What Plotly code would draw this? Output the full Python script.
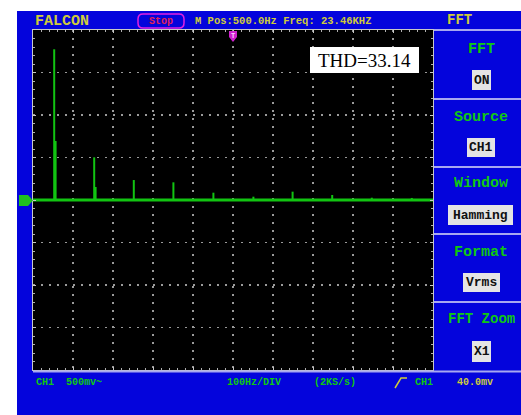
import plotly.graph_objects as go

harmonic_freq_hz = [53, 153, 252, 351, 451, 551, 649, 748, 847, 947]
harmonic_vrms_mv = [1773, 502, 235, 208, 86, 39, 98, 59, 27, 24]
leak_freq_hz = [56.5, 156.5]
leak_vrms_mv = [694, 153]
floor_freq_hz = [0, 1000]
floor_vrms_mv = [0, 0]

x_range = [0, 1000]      # 100 Hz/DIV, 10 div
y_range = [-2000, 2000]  # 500 mV/DIV, 8 div

menu_titles = ["FFT", "Source", "Window", "Format", "FFT Zoom"]
menu_values = ["ON", "CH1", "Hamming", "Vrms", "X1"]

# ---- layout helpers (pixel -> paper) ----
W, H = 521, 415
L, R, T, B = 33, 433, 30, 370


def X(px):
    return (px - L) / (R - L)


def Y(py):
    return (B - py) / (B - T)


BLUE = "#0404DC"
GREEN_TXT = "#10C810"
YELLOW = "#CFCB3A"
TRACE = "#12C412"
SEP = "#A8A8F0"
MONO = "Liberation Mono"

fig = go.Figure()
fig.add_trace(go.Scatter(x=floor_freq_hz, y=floor_vrms_mv, mode="lines",
                         line=dict(color=TRACE, width=3), hoverinfo="skip"))
fig.add_trace(go.Bar(x=harmonic_freq_hz, y=harmonic_vrms_mv, width=5,
                     marker=dict(color=TRACE, line=dict(width=0))))
fig.add_trace(go.Bar(x=leak_freq_hz, y=leak_vrms_mv, width=5,
                     marker=dict(color=TRACE, line=dict(width=0))))

shapes = []
ann = []


def rect(x0, y0, x1, y1, fill, line=None, lw=0, layer="above"):
    shapes.append(dict(type="rect", xref="paper", yref="paper",
                       x0=X(x0), x1=X(x1), y0=Y(y1), y1=Y(y0),
                       fillcolor=fill, line=dict(color=line or fill, width=lw),
                       layer=layer))


def hline(x0, x1, y, color, w):
    shapes.append(dict(type="line", xref="paper", yref="paper",
                       x0=X(x0), x1=X(x1), y0=Y(y), y1=Y(y),
                       line=dict(color=color, width=w), layer="above"))


def path(pts, fill, line=None, lw=0, closed=True):
    d = "M " + " L ".join(f"{X(a):.5f},{Y(b):.5f}" for a, b in pts)
    if closed:
        d += " Z"
    shapes.append(dict(type="path", xref="paper", yref="paper", path=d,
                       fillcolor=fill, line=dict(color=line or fill, width=lw),
                       layer="above"))


def txt(s, px, py, color, size, family=MONO, bold=True, xanchor="center"):
    ann.append(dict(text=(f"<b>{s}</b>" if bold else s), x=X(px), y=Y(py),
                    xref="paper", yref="paper", xanchor=xanchor, yanchor="middle",
                    showarrow=False, font=dict(color=color, size=size, family=family)))


# white margins of the screenshot
rect(0, 0, 17, 415, "white")
rect(0, 0, 521, 11, "white")

# menu separators
for yy in [30, 99, 167, 234, 302]:
    hline(434, 521, yy, SEP, 2)
hline(33, 521, 371.5, SEP, 2)

# header
txt("FALCON", 33, 21, YELLOW, 15, xanchor="left")
# rounded "Stop" box
x0, x1, y0, y1, r = 138, 184, 14, 28, 5
d = (f"M {X(x0+r)},{Y(y0)} L {X(x1-r)},{Y(y0)} Q {X(x1)},{Y(y0)} {X(x1)},{Y(y0+r)} "
     f"L {X(x1)},{Y(y1-r)} Q {X(x1)},{Y(y1)} {X(x1-r)},{Y(y1)} L {X(x0+r)},{Y(y1)} "
     f"Q {X(x0)},{Y(y1)} {X(x0)},{Y(y1-r)} L {X(x0)},{Y(y0+r)} Q {X(x0)},{Y(y0)} {X(x0+r)},{Y(y0)} Z")
shapes.append(dict(type="path", xref="paper", yref="paper", path=d,
                   line=dict(color="#E020E0", width=1.5), layer="above"))
txt("Stop", 161, 21, "#E0205A", 10)
txt("M Pos:500.0Hz Freq: 23.46KHZ", 193, 21, YELLOW, 10.5, xanchor="left")
txt("FFT", 460, 20, YELLOW, 14)

# menu
title_y = [49, 117, 184, 252, 319]
box = [(472, 70, 491, 90), (467, 138, 495, 157), (448, 205, 513, 225),
       (463, 273, 500, 292), (472, 341, 491, 362)]
for t, v, ty, bx in zip(menu_titles, menu_values, title_y, box):
    txt(t, 481, ty, GREEN_TXT, 15 if t != "FFT Zoom" else 14)
    rect(*bx, "#E4E4E4")
    txt(v, (bx[0] + bx[2]) / 2, (bx[1] + bx[3]) / 2, "#101010", 13)

# bottom status line
txt("CH1  500mv~", 34, 382, GREEN_TXT, 10, xanchor="left")
txt("100Hz/DIV", 254, 382, GREEN_TXT, 10)
txt("(2KS/s)", 335, 382, GREEN_TXT, 10)
path([(395, 388), (401, 378), (407, 378)], "rgba(0,0,0,0)", line=YELLOW, lw=1.5, closed=False)
txt("CH1", 413, 382, GREEN_TXT, 10, xanchor="left")
txt("40.0mv", 475, 382, YELLOW, 10)

# THD box
rect(310, 47, 419, 73, "white")
txt("THD=33.14", 364.5, 60, "black", 19, family="Liberation Serif", bold=False)

# trigger marker at top, channel marker at left
path([(229, 31), (237, 31), (237, 37), (233, 42), (229, 37)], "#D020D0")
txt("T", 233, 35.5, "#FFD0FF", 7)
path([(19, 195), (28, 195), (33, 200.5), (28, 206), (19, 206)], "#20C020")

fig.update_layout(
    width=W, height=H,
    margin=dict(l=L, r=W - R, t=T, b=H - B),
    paper_bgcolor=BLUE, plot_bgcolor="black",
    showlegend=False, barmode="overlay",
    shapes=shapes, annotations=ann,
    xaxis=dict(range=x_range, dtick=100, showticklabels=False, zeroline=False,
               showgrid=True, gridcolor="#9A9A9A", gridwidth=1.5, griddash="1.5px,6.5px",
               showline=True, linecolor="#C8C8C8", linewidth=1, mirror="ticks",
               ticks="inside", ticklen=3, tickcolor="#C8C8C8",
               minor=dict(dtick=20, ticks="inside", ticklen=2, tickcolor="#B0B0B0", showgrid=False),
               fixedrange=True),
    yaxis=dict(range=y_range, dtick=500, showticklabels=False, zeroline=False,
               showgrid=True, gridcolor="#9A9A9A", gridwidth=1.5, griddash="1.5px,6.5px",
               showline=True, linecolor="#C8C8C8", linewidth=1, mirror="ticks",
               ticks="inside", ticklen=3, tickcolor="#C8C8C8",
               minor=dict(dtick=100, ticks="inside", ticklen=2, tickcolor="#B0B0B0", showgrid=False),
               fixedrange=True),
)

fig.write_html("out.html", config={"displayModeBar": False, "staticPlot": True},
               post_script="document.body.style.margin='0';document.body.style.overflow='hidden';")
